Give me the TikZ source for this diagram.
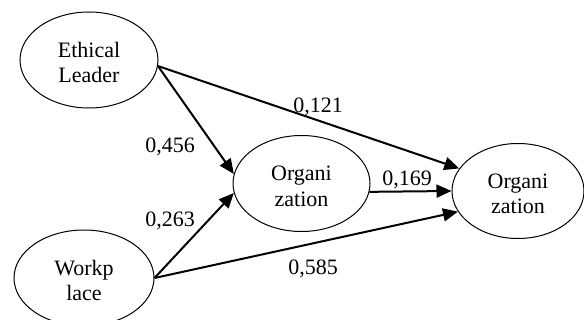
\documentclass[tikz,border=0pt]{standalone}
\usepackage{fontspec}
\setmainfont{Liberation Serif}
\usetikzlibrary{arrows.meta,shapes.geometric}
\begin{document}
\begin{tikzpicture}[
			x=1pt, y=-1pt,
			>={Triangle[length=15pt,width=13pt]},
			construct/.style={
					ellipse,
					draw=black,
					line width=1pt,
					minimum width=138pt,
					minimum height=96pt,
					inner sep=0pt,
					align=center,
					text height=46pt,
					font=\fontsize{22}{25.5}\selectfont
				},
			coef/.style={anchor=base, inner sep=0pt, font=\fontsize{22}{25.5}\selectfont},
			link/.style={->, line width=2pt}
		]
		\useasboundingbox (0,0) rectangle (584,320);

		% Nodes
		\node[construct] (leader) at (89,60) {Ethical \\ Leader};
		\node[construct, minimum width=140pt] (work) at (84,278) {Workp \\ lace};
		\node[construct, minimum width=137pt] (org) at (301.5,183.5) {Organi \\ zation};
		\node[construct, minimum width=132pt, minimum height=95pt] (out) at (518,191) {Organi \\ zation};

		% Coefficients
		\node[coef] (b121) at (318,113) {0,121};
		\node[coef] (b456) at (170,153) {0,456};
		\node[coef] (b263) at (170,227) {0,263};
		\node[coef] (b169) at (407,186) {0,169};
		\node[coef] (b585) at (313,275) {0,585};

		% Arrows
		\draw[link] (leader.-5) -- (org.172);
		\draw[link] (leader.-5) -- (out.159);
		\draw[link] (work.east) -- (org.188);
		\draw[link] (work.east) -- (out.199);
		\draw[link] (org.-7) -- (out.west);

	\end{tikzpicture}
\end{document}
